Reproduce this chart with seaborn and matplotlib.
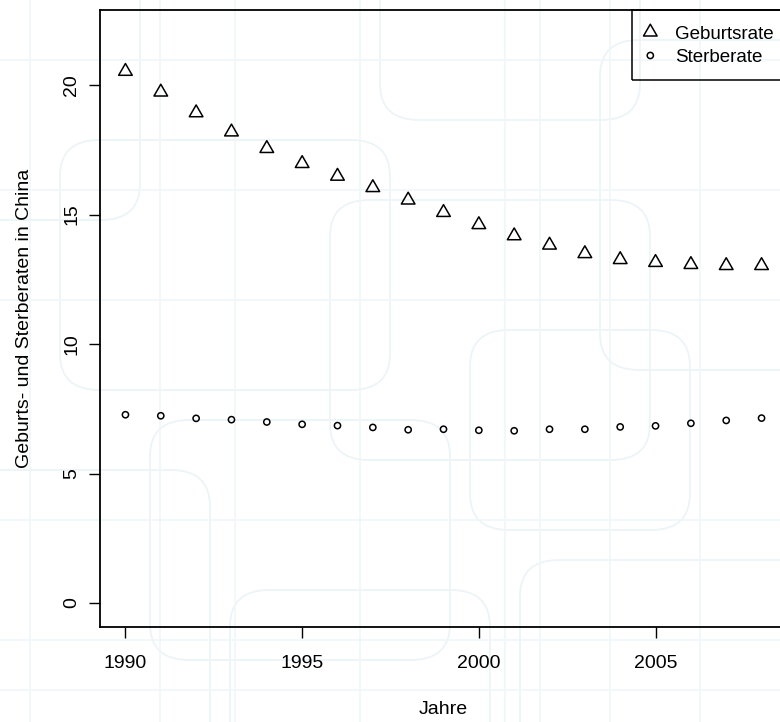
import matplotlib
matplotlib.use("Agg")
import matplotlib.pyplot as plt
import seaborn as sns
import pandas as pd
import numpy as np
from matplotlib.patches import FancyBboxPatch
from matplotlib.lines import Line2D

# ---- data ----
years = list(range(1990, 2009))
geburtsrate = [20.53, 19.73, 18.93, 18.19, 17.55, 16.97, 16.48, 16.04, 15.56, 15.08,
               14.61, 14.18, 13.82, 13.49, 13.26, 13.15, 13.07, 13.03, 13.03]
sterberate = [7.27, 7.23, 7.13, 7.08, 6.99, 6.90, 6.85, 6.78, 6.69, 6.71,
              6.67, 6.65, 6.71, 6.71, 6.80, 6.84, 6.94, 7.05, 7.14]
series_labels = ["Geburtsrate", "Sterberate"]
x_ticks = [1990, 1995, 2000, 2005]
y_ticks = [0, 5, 10, 15, 20]
x_label = "Jahre"
y_label = "Geburts- und Sterberaten in China"

df = pd.DataFrame({
    "Jahr": years * 2,
    "Rate": geburtsrate + sterberate,
    "Serie": [series_labels[0]] * len(years) + [series_labels[1]] * len(years),
})

sns.set_style("white")
plt.rcParams["font.family"] = ["Liberation Sans", "DejaVu Sans"]
plt.rcParams["text.color"] = "black"
plt.rcParams["axes.labelcolor"] = "black"
plt.rcParams["xtick.color"] = "black"
plt.rcParams["ytick.color"] = "black"
FS = 14

W, H = 780, 722
fig = plt.figure(figsize=(W / 100, H / 100), dpi=100)
fig.patch.set_facecolor("white")

# faint wallpaper-like background pattern (decoration)
bg = "#edf4f7"
rects = [(-40, 470, 250, 300), (150, 420, 300, 240), (330, 200, 320, 260),
         (520, 560, 300, 200), (60, 140, 330, 250), (600, 40, 240, 330),
         (380, -60, 260, 180), (-60, -40, 200, 260), (230, 590, 260, 200),
         (470, 330, 220, 200)]
for (x0, y0, w, h) in rects:
    p = FancyBboxPatch((x0 / W, 1 - (y0 + h) / H), w / W, h / H,
                       boxstyle="round,pad=0,rounding_size=0.05",
                       transform=fig.transFigure, fill=False,
                       edgecolor=bg, lw=1.3, zorder=0)
    fig.add_artist(p)
for xv in [30, 160, 235, 360, 505, 540, 610, 700]:
    fig.add_artist(Line2D([xv / W, xv / W], [0, 1], transform=fig.transFigure,
                          color="#f0f6f9", lw=1.2, zorder=0))
for yv in [60, 190, 300, 520, 640, 690]:
    fig.add_artist(Line2D([0, 1], [1 - yv / H, 1 - yv / H], transform=fig.transFigure,
                          color="#f0f6f9", lw=1.2, zorder=0))

# axes: left 100px, right 787px (cropped), top 10px, bottom 627px
left, right, top, bottom = 100, 787, 10, 627
ax = fig.add_axes([left / W, 1 - bottom / H, (right - left) / W, (bottom - top) / H])
ax.set_facecolor("none")

tri = (3, 0, 0)  # equilateral triangle centred on its centroid
marker_map = {series_labels[0]: tri, series_labels[1]: "o"}
size_map = {series_labels[0]: 128, series_labels[1]: 20}
for lab in series_labels:
    sub = df[df["Serie"] == lab]
    sns.scatterplot(data=sub, x="Jahr", y="Rate", marker=marker_map[lab],
                    s=size_map[lab], facecolor="none", edgecolor="black",
                    linewidth=1.1, label=lab, ax=ax, zorder=3)

ax.set_xlim(1989.28, 2008.72)
ax.set_ylim(-0.927, 22.9)
ax.set_xticks(x_ticks)
ax.set_xticklabels([str(t) for t in x_ticks], fontsize=FS)
ax.set_yticks(y_ticks)
ax.set_yticklabels([str(t) for t in y_ticks], fontsize=FS, rotation=90, va="center")
ax.tick_params(axis="both", direction="out", length=8.2, width=1.0, color="black",
               left=True, bottom=True)
ax.tick_params(axis="x", pad=12)
ax.tick_params(axis="y", pad=6)
for sp in ax.spines.values():
    sp.set_visible(True)
    sp.set_color("black")
    sp.set_linewidth(1.3)

ax.set_xlabel(x_label, fontsize=FS)
ax.set_ylabel(y_label, fontsize=FS)
ax.xaxis.set_label_coords(0.5, -0.12)
ax.yaxis.set_label_coords(-0.097, 0.5)

leg = ax.legend(loc="upper right", bbox_to_anchor=(1, 1), borderaxespad=0,
                fontsize=13.5, frameon=True, fancybox=False, edgecolor="black",
                facecolor="none", framealpha=1, borderpad=0.72, labelspacing=0.23,
                handlelength=0.48, handleheight=1.05, handletextpad=1.07)
leg.get_frame().set_linewidth(1.1)

fig.savefig("out.png", dpi=100)
